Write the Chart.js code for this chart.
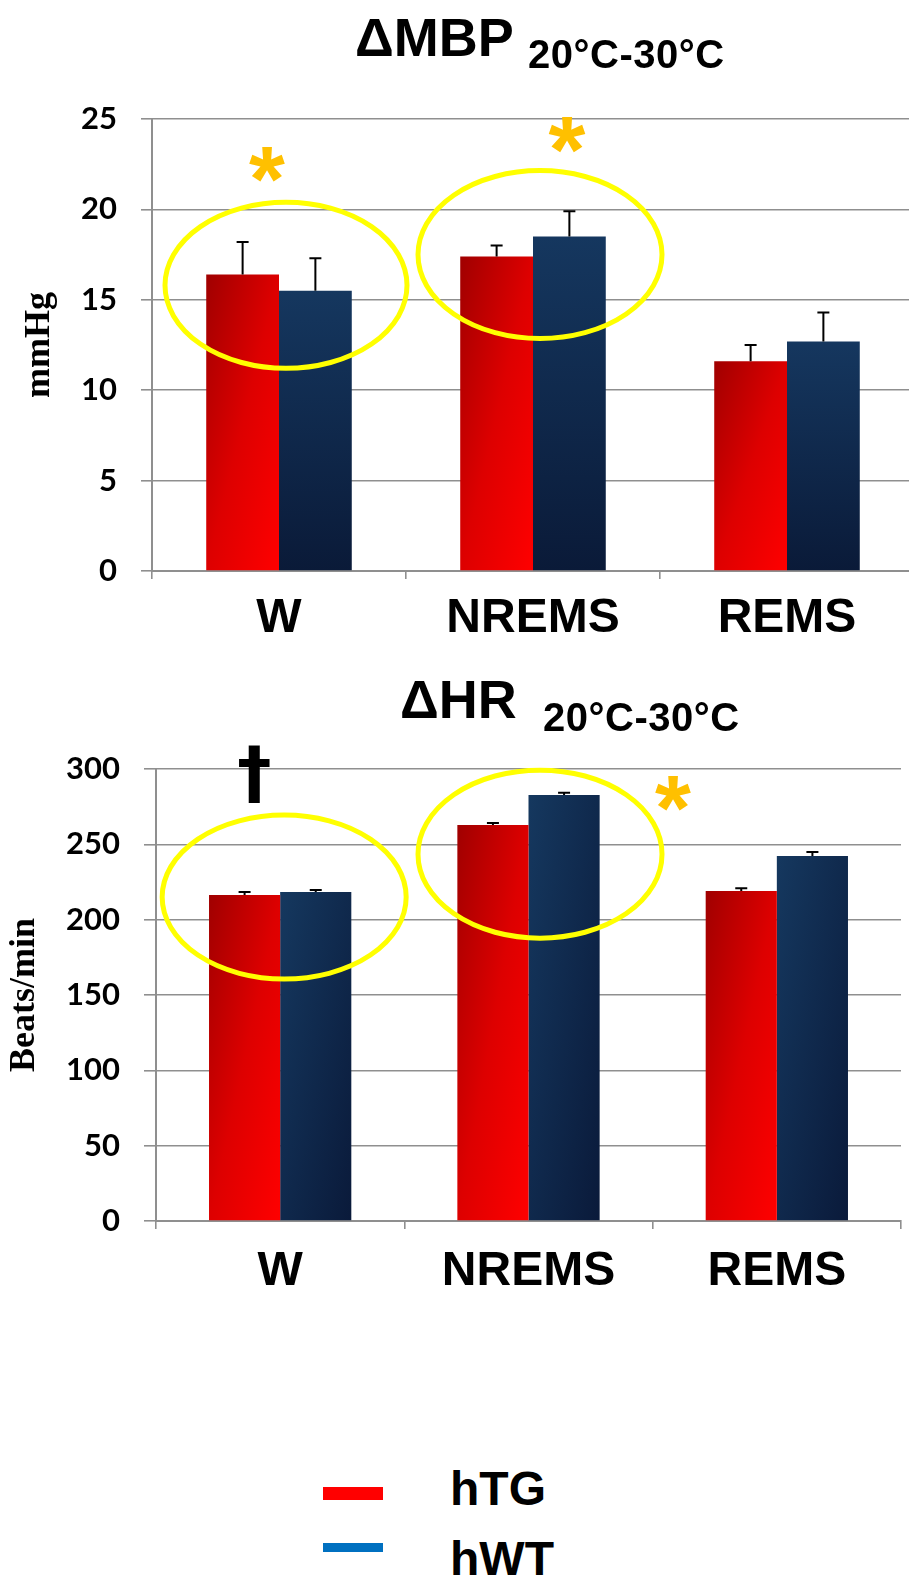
<!DOCTYPE html>
<html><head><meta charset="utf-8">
<script src="https://cdn.jsdelivr.net/npm/chart.js@4.4.0/dist/chart.umd.min.js"></script>
<style>
html,body{margin:0;padding:0;background:#fff;width:909px;height:1582px;overflow:hidden;position:relative}
.abs{position:absolute;white-space:nowrap;line-height:1;font-family:"Liberation Sans",Arial,sans-serif;font-weight:bold;color:#000;z-index:2}
#w1{position:absolute;left:0;top:0;width:916px;height:650px}
#w2{position:absolute;left:0;top:650px;width:909px;height:650px}
.sw{position:absolute;left:323px;width:60px}
</style></head><body>
<div id="w1"><canvas id="c1"></canvas></div>
<div id="w2"><canvas id="c2"></canvas></div>
<span class="abs" style="left:355px;top:10px;font-size:54px">ΔMBP</span>
<span class="abs" style="left:528px;top:34px;font-size:40px;letter-spacing:0.5px">20°C-30°C</span>
<span class="abs" style="left:400px;top:672px;font-size:54px">ΔHR</span>
<span class="abs" style="left:543px;top:697px;font-size:40px;letter-spacing:0.5px">20°C-30°C</span>
<div class="sw" style="top:1487px;height:13px;background:#FF0000"></div>
<div class="sw" style="top:1543px;height:9px;background:#0070C0"></div>
<span class="abs" id="lg1" style="left:450px;top:1465px;font-size:48px"></span>
<span class="abs" id="lg2" style="left:450px;top:1535px;font-size:48px"></span>
<script>
// ---- data ----
const categories = ['W', 'NREMS', 'REMS'];
const seriesNames = ['hTG', 'hWT'];
const mbpTG = [16.4, 17.4, 11.6];
const mbpTGErr = [1.8, 0.6, 0.9];
const mbpWT = [15.5, 18.5, 12.7];
const mbpWTErr = [1.8, 1.4, 1.6];
const hrTG = [216.3, 262.8, 219.0];
const hrTGErr = [2.0, 1.3, 1.8];
const hrWT = [218.4, 282.7, 242.2];
const hrWTErr = [1.3, 1.5, 2.7];
const mbpTicks = [0, 5, 10, 15, 20, 25];
const hrTicks = [0, 50, 100, 150, 200, 250, 300];
const mbpTitle = 'mmHg';
const hrTitle = 'Beats/min';

document.getElementById('lg1').textContent = seriesNames[0];
document.getElementById('lg2').textContent = seriesNames[1];

const CAT_PCT = 0.573;
const RED = [[0, '#A00000'], [0.5, '#DD0000'], [1, '#FF0000']];
const BLUE_V = [[0, '#15375F'], [1, '#0A1A38']];
const BLUE_D = [[0, '#15385F'], [1, '#0A1A3A']];

function grad(ctx, l, t, r, b, stops, diag) {
  let g;
  if (diag) {
    const w = Math.max(r - l, 1), h = Math.max(b - t, 1);
    const a = 1 / (2 * w), bb = 1 / (2 * h), d = a * a + bb * bb;
    g = ctx.createLinearGradient(l, t, l + a / d, t + bb / d);
  } else {
    g = ctx.createLinearGradient(0, t, 0, b);
  }
  stops.forEach(s => g.addColorStop(s[0], s[1]));
  return g;
}
function barFill(stops, diag, fallback) {
  return (c) => {
    const chart = c.chart;
    if (!chart.chartArea || c.type !== 'data') return fallback;
    const xs = chart.scales.x, ys = chart.scales.y;
    const n = xs.getLabels().length;
    const size = (xs.right - xs.left) / n * CAT_PCT;
    const cx = xs.getPixelForValue(c.dataIndex);
    const l = cx - size / 2 + c.datasetIndex * size / 2;
    const r = l + size / 2;
    const t = ys.getPixelForValue(c.raw), b = ys.getPixelForValue(0);
    return grad(chart.ctx, l, t, r, b, stops, diag);
  };
}

const errorBars = {
  id: 'errorBars',
  afterDatasetsDraw(chart) {
    const ctx = chart.ctx, ys = chart.scales.y;
    chart.data.datasets.forEach((ds, di) => {
      const meta = chart.getDatasetMeta(di);
      meta.data.forEach((el, i) => {
        const v = ds.data[i], e = ds.errors[i];
        const yTop = ys.getPixelForValue(v + e), yBar = ys.getPixelForValue(v);
        ctx.save();
        ctx.strokeStyle = '#000'; ctx.lineWidth = 2;
        ctx.beginPath();
        ctx.moveTo(el.x, yBar); ctx.lineTo(el.x, yTop);
        ctx.moveTo(el.x - 6, yTop); ctx.lineTo(el.x + 6, yTop);
        ctx.stroke();
        ctx.restore();
      });
    });
  }
};
const marks = {
  id: 'marks',
  afterDatasetsDraw(chart, args, opts) {
    const ctx = chart.ctx, xs = chart.scales.x, ys = chart.scales.y;
    (opts.ellipses || []).forEach(e => {
      const cx = xs.getPixelForValue(e.cat) + e.dx, cy = ys.getPixelForValue(e.value);
      ctx.save();
      ctx.strokeStyle = '#FFFF00'; ctx.lineWidth = 5;
      ctx.beginPath(); ctx.ellipse(cx, cy, e.rx, e.ry, 0, 0, Math.PI * 2); ctx.stroke();
      ctx.restore();
    });
    (opts.symbols || []).forEach(s => {
      ctx.save();
      ctx.font = 'bold 100px ' + s.family;
      const m = ctx.measureText(s.text);
      const gh = m.actualBoundingBoxAscent + m.actualBoundingBoxDescent;
      const size = 100 * s.h / gh;
      ctx.font = 'bold ' + size + 'px ' + s.family;
      const m2 = ctx.measureText(s.text);
      const cx = xs.getPixelForValue(s.cat) + s.dx, cy = ys.getPixelForValue(s.value);
      ctx.textAlign = 'left'; ctx.textBaseline = 'alphabetic';
      ctx.fillStyle = s.color;
      const x = cx - (m2.actualBoundingBoxRight - m2.actualBoundingBoxLeft) / 2;
      const y = cy + (m2.actualBoundingBoxAscent - m2.actualBoundingBoxDescent) / 2;
      ctx.fillText(s.text, x, y);
      ctx.restore();
    });
  }
};

const GRID = '#8f8f8f';
function makeChart(id, cfg) {
  return new Chart(document.getElementById(id), {
    type: 'bar',
    data: {
      labels: categories,
      datasets: [
        { label: seriesNames[0], data: cfg.tg, errors: cfg.tgErr, backgroundColor: barFill(RED, true, '#E00000'),
          categoryPercentage: CAT_PCT, barPercentage: 1, borderWidth: 0 },
        { label: seriesNames[1], data: cfg.wt, errors: cfg.wtErr, backgroundColor: barFill(cfg.blue, cfg.blueDiag, '#12305A'),
          categoryPercentage: CAT_PCT, barPercentage: 1, borderWidth: 0 }
      ]
    },
    plugins: [errorBars, marks],
    options: {
      responsive: true, maintainAspectRatio: false, animation: false, devicePixelRatio: 1,
      layout: { padding: { top: 119, right: cfg.padRight, bottom: 0, left: 0 } },
      plugins: {
        legend: { display: false }, tooltip: { enabled: false },
        marks: { ellipses: cfg.ellipses, symbols: cfg.symbols }
      },
      scales: {
        x: {
          offset: true,
          grid: { display: true, drawOnChartArea: false, drawTicks: true, tickLength: 8, color: GRID, lineWidth: 1.6, offset: true },
          border: { display: true, color: GRID, width: 2 },
          ticks: { font: { family: '"Liberation Sans", Arial, sans-serif', weight: 'bold', size: 48 }, color: '#000', padding: cfg.xPad, maxRotation: 0 },
          afterFit: (a) => { a.height = 79; }
        },
        y: {
          min: cfg.ticks[0], max: cfg.ticks[cfg.ticks.length - 1],
          afterBuildTicks: (a) => { a.ticks = cfg.ticks.map(v => ({ value: v })); },
          ticks: { font: { family: 'Lato, "Liberation Sans", sans-serif', weight: 'bold', size: 31 }, color: '#000', padding: 24 },
          grid: { color: GRID, lineWidth: 1.6, tickLength: cfg.yTick, drawTicks: true },
          border: { display: true, color: GRID, width: 2 },
          title: { display: true, text: cfg.title, color: '#000',
                   font: { family: '"Liberation Serif", "Times New Roman", serif', weight: 'bold', size: 36 },
                   padding: { top: cfg.titlePad, bottom: 0 } },
          afterFit: (a) => { a.width = cfg.yWidth; }
        }
      }
    }
  });
}

makeChart('c1', {
  tg: mbpTG, tgErr: mbpTGErr, wt: mbpWT, wtErr: mbpWTErr, ticks: mbpTicks, title: mbpTitle,
  blue: BLUE_V, blueDiag: false, padRight: 2, yWidth: 152, yTick: 11, titlePad: 18, xPad: 11,
  ellipses: [ { cat: 0, dx: 7, value: 15.8, rx: 121, ry: 83 }, { cat: 1, dx: 7, value: 17.5, rx: 122, ry: 84 } ],
  symbols: [ { text: '*', cat: 0, dx: -12, value: 22.5, h: 35, color: '#FFC000', family: '"Liberation Sans", sans-serif' },
             { text: '*', cat: 1, dx: 34, value: 24.1, h: 36, color: '#FFC000', family: '"Liberation Sans", sans-serif' } ]
});
makeChart('c2', {
  tg: hrTG, tgErr: hrTGErr, wt: hrWT, wtErr: hrWTErr, ticks: hrTicks, title: hrTitle,
  blue: BLUE_D, blueDiag: true, padRight: 8, yWidth: 156, yTick: 12, titlePad: 3, xPad: 14,
  ellipses: [ { cat: 0, dx: 4, value: 215, rx: 122, ry: 82 }, { cat: 1, dx: 11.5, value: 243.5, rx: 122, ry: 84 } ],
  symbols: [ { text: '†', cat: 0, dx: -26, value: 297, h: 57, color: '#000', family: '"DejaVu Sans", sans-serif' },
             { text: '*', cat: 1, dx: 144.5, value: 284, h: 35, color: '#FFC000', family: '"Liberation Sans", sans-serif' } ]
});
</script>
</body></html>
